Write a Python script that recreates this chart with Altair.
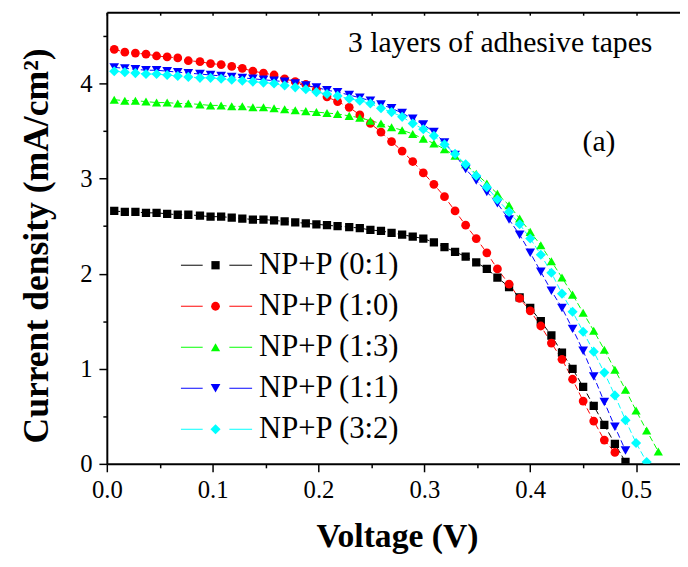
import altair as alt
import pandas as pd

names = ["NP+P (0:1)", "NP+P (1:0)", "NP+P (1:3)", "NP+P (1:1)", "NP+P (3:2)"]
colors = ["#000000", "#ff0000", "#00ff00", "#0000ff", "#00ffff"]
shapes = ["square", "circle", "triangle-up", "triangle-down", "diamond"]
sizes = [70, 105, 110, 110, 105]
legend_rows = [0, 1, 2, 3, 4]

# voltage sweep (V)
volts = [0.007, 0.017, 0.027, 0.037, 0.047, 0.057, 0.067, 0.077, 0.088, 0.098,
         0.108, 0.118, 0.128, 0.138, 0.148, 0.158, 0.168, 0.178, 0.188, 0.198,
         0.208, 0.218, 0.229, 0.239, 0.249, 0.259, 0.269, 0.279, 0.289, 0.299,
         0.309, 0.319, 0.329, 0.339, 0.349, 0.359, 0.369, 0.380, 0.390, 0.400,
         0.410, 0.420, 0.430, 0.440, 0.450, 0.460, 0.470, 0.480, 0.490, 0.500,
         0.510, 0.521]

j_01 = [2.66, 2.65, 2.65, 2.64, 2.64, 2.63, 2.62, 2.62, 2.61, 2.60,
        2.60, 2.59, 2.58, 2.57, 2.57, 2.56, 2.55, 2.54, 2.53, 2.52,
        2.51, 2.50, 2.49, 2.48, 2.46, 2.45, 2.43, 2.41, 2.39, 2.37,
        2.33, 2.28, 2.23, 2.18, 2.12, 2.05, 1.96, 1.86, 1.75, 1.64,
        1.50, 1.35, 1.17, 1.00, 0.81, 0.61, 0.41, 0.21, 0.02]
j_10 = [4.36, 4.33, 4.32, 4.31, 4.29, 4.28, 4.27, 4.24, 4.23, 4.21,
        4.20, 4.18, 4.16, 4.13, 4.11, 4.09, 4.05, 4.02, 3.99, 3.94,
        3.86, 3.81, 3.75, 3.67, 3.58, 3.49, 3.39, 3.29, 3.18, 3.06,
        2.94, 2.81, 2.66, 2.51, 2.37, 2.22, 2.05, 1.89, 1.74, 1.61,
        1.45, 1.27, 1.10, 0.89, 0.66, 0.45, 0.25, 0.12]
j_13 = [3.83, 3.82, 3.82, 3.81, 3.80, 3.80, 3.79, 3.79, 3.78, 3.77,
        3.77, 3.76, 3.76, 3.75, 3.75, 3.74, 3.73, 3.72, 3.71, 3.70,
        3.69, 3.68, 3.66, 3.64, 3.61, 3.58, 3.54, 3.51, 3.47, 3.42,
        3.37, 3.31, 3.24, 3.15, 3.05, 2.95, 2.84, 2.72, 2.58, 2.44,
        2.30, 2.13, 1.96, 1.78, 1.59, 1.40, 1.20, 0.99, 0.78, 0.56,
        0.35, 0.13]
j_11 = [4.17, 4.16, 4.15, 4.14, 4.14, 4.13, 4.12, 4.11, 4.10, 4.09,
        4.08, 4.07, 4.06, 4.05, 4.04, 4.03, 4.02, 4.00, 3.98, 3.96,
        3.93, 3.91, 3.88, 3.85, 3.82, 3.78, 3.74, 3.69, 3.63, 3.57,
        3.49, 3.38, 3.25, 3.10, 2.98, 2.86, 2.74, 2.57, 2.41, 2.22,
        2.02, 1.82, 1.64, 1.42, 1.19, 0.92, 0.65, 0.39, 0.14]
j_32 = [4.13, 4.12, 4.11, 4.10, 4.10, 4.09, 4.08, 4.07, 4.06, 4.06,
        4.05, 4.04, 4.03, 4.02, 4.01, 4.00, 3.98, 3.96, 3.94, 3.91,
        3.89, 3.87, 3.84, 3.82, 3.79, 3.74, 3.70, 3.65, 3.58, 3.52,
        3.45, 3.36, 3.26, 3.15, 3.03, 2.91, 2.78, 2.65, 2.52, 2.37,
        2.20, 2.01, 1.79, 1.60, 1.39, 1.18, 0.96, 0.72, 0.46, 0.22,
        0.02]

x_ticks = [0.0, 0.05, 0.1, 0.15, 0.2, 0.25, 0.3, 0.35, 0.4, 0.45, 0.5]
y_ticks = [0, 0.5, 1, 1.5, 2, 2.5, 3, 3.5, 4, 4.5, 4.75]

annot_text = "3 layers of adhesive tapes"
panel_text = "(a)"

rows = []
for name, series in zip(names, [j_01, j_10, j_13, j_11, j_32]):
    for k, j in enumerate(series):
        rows.append({"series": name, "V": volts[k], "J": j, "k": k})
df = pd.DataFrame(rows)
legend_df = pd.DataFrame({"series": names, "row": legend_rows})

FONT = "Liberation Serif"
xscale = alt.Scale(domain=[0, 0.5415], nice=False, zero=False)
yscale = alt.Scale(domain=[0, 4.75], nice=False)
cscale = alt.Scale(domain=names, range=colors)
shscale = alt.Scale(domain=names, range=shapes)
szscale = alt.Scale(domain=names, range=sizes)
rowscale = alt.Scale(domain=[0, 4], range=[256, 422])

x_bottom = alt.X(
    "V:Q", scale=xscale,
    axis=alt.Axis(
        orient="bottom", values=x_ticks, title="Voltage (V)",
        labelExpr="round(datum.value*100) % 10 === 0 ? format(datum.value, '.1f') : ''",
        tickSize={"condition": {"test": "round(datum.value*100) % 10 === 0", "value": 8}, "value": 4},
        labelPadding=6, grid=False, labelFlush=False,
        titleX=293.5, titleY=74, titleBaseline="middle", titleAlign="center",
    ),
)
y_left = alt.Y(
    "J:Q", scale=yscale,
    axis=alt.Axis(
        values=y_ticks, title="Current density (mA/cm²)",
        labelExpr="datum.value % 1 === 0 ? format(datum.value, 'd') : ''",
        tickSize={"condition": {"test": "datum.value % 1 === 0", "value": 8}, "value": 4},
        tickOpacity={"condition": {"test": "datum.value > 4.6", "value": 0}, "value": 1},
        grid=True, gridColor="black", gridWidth=2,
        gridOpacity={"condition": {"test": "datum.value > 4.6", "value": 1}, "value": 0},
        labelPadding=7, labelFlush=False,
        titleFontSize=36,
        titleX=-71, titleY=236, titleBaseline="middle", titleAlign="center", titleAngle=270,
    ),
)

lines = alt.Chart(df).mark_line(strokeWidth=1, strokeDash=[6, 3], clip=True).encode(
    x=x_bottom,
    y=y_left,
    color=alt.Color("series:N", scale=cscale, legend=None),
    order="k:Q",
)

points = alt.Chart(df).mark_point(filled=True, opacity=1, clip=True).encode(
    x=alt.X("V:Q", scale=xscale,
            axis=alt.Axis(orient="top", values=x_ticks, labels=False, domain=False,
                          tickSize=3, offset=-3, title=None, grid=False)),
    y=alt.Y("J:Q", scale=yscale, axis=None),
    color=alt.Color("series:N", scale=cscale, legend=None),
    shape=alt.Shape("series:N", scale=shscale, legend=None),
    size=alt.Size("series:N", scale=szscale, legend=None),
)

# hand-built legend: line - marker - line, label
leg_y = alt.Y("row:Q", scale=rowscale, axis=None)
leg_left = alt.Chart(legend_df).mark_rule(strokeWidth=1).encode(
    x=alt.value(75), x2=alt.value(97), y=leg_y,
    color=alt.Color("series:N", scale=cscale, legend=None),
)
leg_right = alt.Chart(legend_df).mark_rule(strokeWidth=1).encode(
    x=alt.value(124), x2=alt.value(147), y=leg_y,
    color=alt.Color("series:N", scale=cscale, legend=None),
)
leg_marks = alt.Chart(legend_df).mark_point(filled=True, opacity=1).encode(
    x=alt.value(110), y=leg_y,
    color=alt.Color("series:N", scale=cscale, legend=None),
    shape=alt.Shape("series:N", scale=shscale, legend=None),
    size=alt.Size("series:N", scale=szscale, legend=None),
)
leg_text = alt.Chart(legend_df).mark_text(
    font=FONT, fontSize=31, color="black", align="left", baseline="middle"
).encode(x=alt.value(154), y=leg_y, text="series:N")

t1 = alt.Chart(pd.DataFrame({"t": [annot_text]})).mark_text(
    font=FONT, fontSize=30, color="black", align="center", baseline="middle"
).encode(text="t:N", x=alt.value(398), y=alt.value(31))
t2 = alt.Chart(pd.DataFrame({"t": [panel_text]})).mark_text(
    font=FONT, fontSize=30, color="black", align="center", baseline="middle"
).encode(text="t:N", x=alt.value(498), y=alt.value(131))

chart = alt.layer(
    lines, points, leg_left, leg_right, leg_marks, leg_text, t1, t2
).resolve_scale(y="independent").resolve_axis(x="independent").properties(
    width=580, height=457,
    autosize=alt.AutoSizeParams(type="none"),
    padding={"left": 100, "top": 1, "right": 0, "bottom": 95},
).configure_view(stroke=None).configure_axis(
    domainColor="black", domainWidth=2, tickColor="black", tickWidth=1.5,
    labelFont=FONT, labelFontSize=25, labelColor="black",
    titleFont=FONT, titleFontSize=34, titleFontWeight="bold", titleColor="black",
)

chart.save("out.html", embed_options={"renderer": "svg", "actions": False})
